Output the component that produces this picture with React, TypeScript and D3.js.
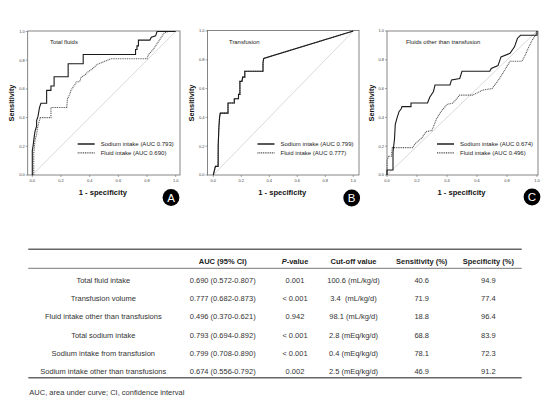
import React from "react";
import * as d3 from "d3";

// ---------- DATA ----------
type P = [number, number];
const totalSodium: P[] = [[0,0],[0,0.17],[0.005,0.2],[0.01,0.24],[0.015,0.28],[0.02,0.31],[0.03,0.34],[0.03,0.38],[0.04,0.41],[0.045,0.44],[0.05,0.47],[0.06,0.5],[0.1,0.5],[0.1,0.59],[0.13,0.59],[0.13,0.62],[0.152,0.62],[0.152,0.685],[0.25,0.685],[0.25,0.775],[0.355,0.775],[0.355,0.84],[0.72,0.84],[0.72,0.875],[0.73,0.875],[0.73,0.9],[0.74,0.9],[0.74,0.94],[0.82,0.94],[0.83,0.96],[0.86,0.97],[0.87,1],[1,1]];
const totalFluid: P[] = [[0,0],[0.01,0],[0.01,0.15],[0.015,0.2],[0.02,0.25],[0.03,0.28],[0.035,0.32],[0.045,0.36],[0.055,0.4],[0.13,0.4],[0.13,0.47],[0.24,0.47],[0.245,0.53],[0.26,0.56],[0.27,0.59],[0.29,0.62],[0.31,0.65],[0.33,0.65],[0.34,0.68],[0.37,0.7],[0.39,0.72],[0.42,0.74],[0.45,0.77],[0.5,0.79],[0.55,0.81],[0.8,0.81],[0.81,0.84],[0.84,0.87],[0.86,0.9],[0.88,0.93],[0.9,0.96],[0.92,0.99],[0.95,1],[1,1]];
const transSodium: P[] = [[0,0],[0.005,0.02],[0.01,0.04],[0.015,0.06],[0.035,0.06],[0.035,0.2],[0.04,0.33],[0.045,0.4],[0.05,0.43],[0.105,0.43],[0.105,0.5],[0.15,0.5],[0.15,0.53],[0.18,0.53],[0.18,0.56],[0.19,0.56],[0.19,0.65],[0.205,0.65],[0.21,0.68],[0.225,0.68],[0.225,0.72],[0.355,0.72],[0.355,0.78],[0.36,0.81],[1,1]];
const transFluid: P[] = [[0,0],[0.005,0.02],[0.01,0.04],[0.015,0.06],[0.032,0.06],[0.035,0.21],[0.04,0.34],[0.045,0.41],[0.05,0.43],[0.105,0.43],[0.105,0.5],[0.15,0.5],[0.15,0.53],[0.18,0.53],[0.18,0.56],[0.19,0.56],[0.19,0.65],[0.205,0.65],[0.21,0.68],[0.225,0.68],[0.225,0.72],[0.355,0.72],[0.355,0.78],[0.36,0.81],[1,1]];
const otherSodium: P[] = [[0,0],[0,0.035],[0.04,0.035],[0.04,0.16],[0.05,0.25],[0.055,0.35],[0.065,0.39],[0.08,0.44],[0.095,0.46],[0.1,0.475],[0.16,0.475],[0.16,0.5],[0.27,0.5],[0.285,0.54],[0.31,0.58],[0.32,0.625],[0.42,0.625],[0.43,0.66],[0.485,0.67],[0.5,0.72],[0.685,0.72],[0.695,0.74],[0.74,0.76],[0.76,0.82],[0.82,0.845],[0.85,0.89],[0.87,0.95],[0.89,0.97],[1,0.97],[1,1]];
const otherFluid: P[] = [[0,0],[0,0.1],[0.01,0.13],[0.03,0.13],[0.035,0.19],[0.17,0.19],[0.19,0.22],[0.23,0.255],[0.26,0.3],[0.3,0.31],[0.33,0.39],[0.36,0.44],[0.4,0.49],[0.44,0.5],[0.485,0.555],[0.57,0.555],[0.6,0.57],[0.64,0.59],[0.7,0.6],[0.73,0.64],[0.75,0.67],[0.78,0.72],[0.82,0.79],[0.9,0.79],[0.92,0.83],[0.95,0.9],[0.97,0.94],[0.99,0.97],[1,1]];

const axisTicks = [0, 0.2, 0.4, 0.6, 0.8, 1.0];
const panelTitles = ["Total fluids", "Transfusion", "Fluids other than transfusion"];
const panelLetters = ["A", "B", "C"];
const sodiumAUC = ["0.793", "0.799", "0.674"];
const fluidAUC = ["0.690", "0.777", "0.496"];

const tableHeaders = ["", "AUC (95% CI)", "P-value", "Cut-off value", "Sensitivity (%)", "Specificity (%)"];
const rowLabels = ["Total fluid intake", "Transfusion volume", "Fluid intake other than transfusions", "Total sodium intake", "Sodium intake from transfusion", "Sodium intake other than transfusions"];
const aucCI = ["0.690 (0.572-0.807)", "0.777 (0.682-0.873)", "0.496 (0.370-0.621)", "0.793 (0.694-0.892)", "0.799 (0.708-0.890)", "0.674 (0.556-0.792)"];
const pValues = ["0.001", "< 0.001", "0.942", "< 0.001", "< 0.001", "0.002"];
const cutoffs = ["100.6 (mL/kg/d)", "3.4  (mL/kg/d)", "98.1 (mL/kg/d)", "2.8 (mEq/kg/d)", "0.4 (mEq/kg/d)", "2.5 (mEq/kg/d)"];
const sensitivity = ["40.6", "71.9", "18.8", "68.8", "78.1", "46.9"];
const specificity = ["94.9", "77.4", "96.4", "83.9", "72.3", "91.2"];
const footnote = "AUC, area under curve; CI, confidence interval";

// ---------- LAYOUT ----------
const FONT = "'Liberation Sans', Arial, sans-serif";
const panels = [
  { sodium: totalSodium, fluid: totalFluid, box: [27.7, 31, 180, 175], xr: [32.3, 175.7], yr: [175, 31.5], titleX: 50, axisLabelX: 11, badge: [171, 197.5] },
  { sodium: transSodium, fluid: transFluid, box: [207.5, 30.5, 359, 175], xr: [213.3, 353.3], yr: [175, 31], titleX: 229, axisLabelX: 191, badge: [351.7, 198] },
  { sodium: otherSodium, fluid: otherFluid, box: [387, 31, 538, 175], xr: [387, 537], yr: [175, 31], titleX: 406, axisLabelX: 371, badge: [532, 197] },
];

function Panel({ i }: { i: number }) {
  const p = panels[i];
  const x = d3.scaleLinear().domain([0, 1]).range(p.xr);
  const y = d3.scaleLinear().domain([0, 1]).range(p.yr);
  const line = d3.line<P>().x((d) => x(d[0])).y((d) => y(d[1]));
  const [bx0, by0, bx1, by1] = p.box;
  const cx = (bx0 + bx1) / 2;
  const legX = bx0 + 50;
  return (
    <g>
      <rect x={bx0} y={by0} width={bx1 - bx0} height={by1 - by0} fill="white" stroke="#666" strokeWidth={0.8} />
      <line x1={x(0)} y1={y(0)} x2={x(1)} y2={y(1)} stroke="#c8c8c8" strokeWidth={0.7} />
      {axisTicks.map((t) => (
        <g key={"y" + t}>
          <line x1={bx0 - 2} x2={bx0} y1={y(t)} y2={y(t)} stroke="#666" strokeWidth={0.6} />
          <text x={bx0 - 3} y={y(t) + 1.4} fontSize={4} textAnchor="end" fill="#444" fontFamily={FONT}>{t.toFixed(1)}</text>
        </g>
      ))}
      {axisTicks.map((t) => (
        <g key={"x" + t}>
          <line x1={x(t)} x2={x(t)} y1={by1} y2={by1 + 2} stroke="#666" strokeWidth={0.6} />
          <text x={x(t)} y={by1 + 6.5} fontSize={4} textAnchor="middle" fill="#444" fontFamily={FONT}>{t.toFixed(1)}</text>
        </g>
      ))}
      <path d={line(p.fluid) || ""} fill="none" stroke="#555" strokeWidth={1.1} strokeDasharray="1,0.8" />
      <path d={line(p.sodium) || ""} fill="none" stroke="#1a1a1a" strokeWidth={1.1} />
      <text x={p.titleX} y={44} fontSize={5.9} fill="#222" fontFamily={FONT}>{panelTitles[i]}</text>
      <line x1={legX} x2={legX + 17} y1={144} y2={144} stroke="#111" strokeWidth={1.4} />
      <text x={legX + 23} y={146.2} fontSize={6} fill="#222" fontFamily={FONT}>{`Sodium intake (AUC ${sodiumAUC[i]})`}</text>
      <line x1={legX} x2={legX + 17} y1={152.8} y2={152.8} stroke="#444" strokeWidth={1.2} strokeDasharray="1,0.8" />
      <text x={legX + 23} y={155} fontSize={6} fill="#222" fontFamily={FONT}>{`Fluid intake (AUC ${fluidAUC[i]})`}</text>
      <text transform={`translate(${p.axisLabelX + 2.5},103) rotate(-90)`} fontSize={7.4} fontWeight="bold" textAnchor="middle" fill="#111" fontFamily={FONT}>Sensitivity</text>
      <text x={cx - 1} y={195.2} fontSize={7.6} fontWeight="bold" textAnchor="middle" fill="#111" fontFamily={FONT}>1 - specificity</text>
      <circle cx={p.badge[0]} cy={p.badge[1]} r={8.4} fill="#000" />
      <text x={p.badge[0]} y={p.badge[1] + 4.2} fontSize={11.5} textAnchor="middle" fill="#fff" fontFamily={FONT}>{panelLetters[i]}</text>
    </g>
  );
}

function Table() {
  const colX = [103.3, 222.7, 295, 353.5, 421.7, 488.3];
  const rowY = d3.range(rowLabels.length).map((k) => 282.7 + k * 18.3);
  const cols = [rowLabels, aucCI, pValues, cutoffs, sensitivity, specificity];
  return (
    <g fontFamily={FONT} fontSize={7.5} fill="#333">
      <line x1={28.3} x2={521.7} y1={249.3} y2={249.3} stroke="#666" strokeWidth={1.6} />
      <line x1={28.3} x2={521.7} y1={268.3} y2={268.3} stroke="#777" strokeWidth={1} />
      <line x1={28.3} x2={521.7} y1={377.7} y2={377.7} stroke="#666" strokeWidth={1.6} />
      {tableHeaders.map((h, c) =>
        c === 2 ? (
          <text key={c} x={colX[c]} y={264.4} textAnchor="middle" fontWeight="bold" fill="#222">
            <tspan fontStyle="italic">P</tspan>-value
          </text>
        ) : (
          <text key={c} x={colX[c]} y={264.4} textAnchor="middle" fontWeight="bold" fill="#222">{h}</text>
        )
      )}
      {cols.map((col, c) =>
        col.map((v, r) => (
          <text key={c + "-" + r} x={colX[c]} y={rowY[r]} textAnchor="middle" xmlSpace="preserve" style={{ whiteSpace: "pre" }}>{v}</text>
        ))
      )}
      <text x={29.3} y={395.4} fontSize={7.5}>{footnote}</text>
    </g>
  );
}

export default function App() {
  return (
    <svg width={550} height={413} style={{ position: "absolute", left: 0, top: 0, background: "#fff" }}>
      <rect width={550} height={413} fill="#fff" />
      {panels.map((_, i) => <Panel key={i} i={i} />)}
      <Table />
    </svg>
  );
}
